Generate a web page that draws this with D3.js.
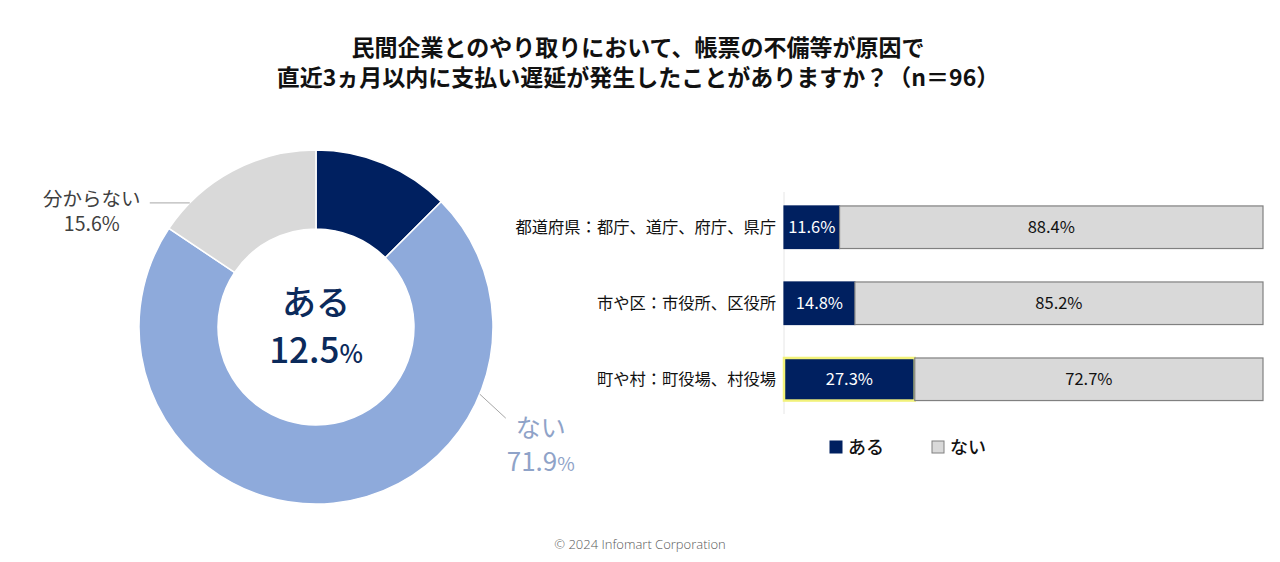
<!DOCTYPE html>
<html>
<head>
<meta charset="utf-8">
<script src="https://cdn.jsdelivr.net/npm/d3@7"></script>
<style>
  body { margin: 0; background: #fff; }
  svg { display: block; font-family: "Noto Sans CJK JP", "Noto Sans", sans-serif; }
</style>
</head>
<body>
<svg id="chart" width="1280" height="562"></svg>
<script>
// donut: overall answer
var pieLabels = ["ある", "ない", "分からない"];
var pieValues = [12.5, 71.9, 15.6];

// bars: by type of local government
var barCategories = ["都道府県：都庁、道庁、府庁、県庁", "市や区：市役所、区役所", "町や村：町役場、村役場"];
var yesValues = [11.6, 14.8, 27.3];
var noValues = [88.4, 85.2, 72.7];
var seriesNames = ["ある", "ない"];

var titleLines = ["民間企業とのやり取りにおいて、帳票の不備等が原因で", "直近3ヵ月以内に支払い遅延が発生したことがありますか？（n＝96）"];

var NAVY = "#002060", LIGHT = "#8eaadb", GRAY = "#d9d9d9";
var svg = d3.select("#chart");

// title
svg.append("g").selectAll("text")
  .data(titleLines)
  .enter().append("text")
    .attr("x", 638)
    .attr("y", function(d, i) { return 56 + i * 30; })
    .attr("text-anchor", "middle")
    .attr("font-size", 23)
    .attr("font-weight", 700)
    .attr("fill", "#111")
    .text(function(d) { return d; });

/***************** DONUT ******************/
var cx = 316, cy = 327, R = 177;
var pie = d3.pie().sort(null).value(function(d) { return d.value; });
var arc = d3.arc().innerRadius(98).outerRadius(R);
var pieData = pie(pieLabels.map(function(l, i) { return {label: l, value: pieValues[i]}; }));
var pieColors = d3.scaleOrdinal().domain(pieLabels).range([NAVY, LIGHT, GRAY]);

var donut = svg.append("g").attr("transform", "translate(" + cx + "," + cy + ")");
donut.selectAll("path")
  .data(pieData)
  .enter().append("path")
    .attr("d", arc)
    .attr("fill", function(d) { return pieColors(d.data.label); })
    .attr("stroke", "#fff")
    .attr("stroke-width", 1.5);

// centre label for ある
var center = donut.append("text").attr("text-anchor", "middle").attr("fill", "#0b2a5b").attr("font-weight", 500);
center.append("tspan").attr("x", 0).attr("y", -12).attr("font-size", 34).text(pieLabels[0]);
var pct = center.append("tspan").attr("x", 0).attr("y", 36).attr("font-size", 35);
pct.text(pieValues[0].toFixed(1));
pct.append("tspan").attr("font-size", 25).text("%");

// point on the ring, a fraction of the way through a slice
function ringPoint(d, f) {
  var a = d.startAngle + (d.endAngle - d.startAngle) * f;
  return [Math.sin(a) * R, -Math.cos(a) * R];
}
var dNo = pieData[1], dUnk = pieData[2];

// ない: leader goes down-right from the ring
var pNo = ringPoint(dNo, 0.26);
donut.append("line")
  .attr("x1", pNo[0]).attr("y1", pNo[1])
  .attr("x2", pNo[0] + 26).attr("y2", pNo[1] + 24)
  .attr("stroke", "#a6a6a6").attr("stroke-width", 1);
var noText = donut.append("text").attr("text-anchor", "middle").attr("fill", "#8fa3c8");
noText.append("tspan").attr("x", pNo[0] + 61).attr("y", pNo[1] + 43).attr("font-size", 25).text(pieLabels[1]);
var noPct = noText.append("tspan").attr("x", pNo[0] + 61).attr("y", pNo[1] + 77).attr("font-size", 26);
noPct.text(pieValues[1].toFixed(1));
noPct.append("tspan").attr("font-size", 19).text("%");

// 分からない: horizontal leader to the left
var pUnk = ringPoint(dUnk, 0.19);
donut.append("line")
  .attr("x1", pUnk[0]).attr("y1", pUnk[1])
  .attr("x2", pUnk[0] - 40).attr("y2", pUnk[1])
  .attr("stroke", "#a6a6a6").attr("stroke-width", 1);
var unkText = donut.append("text").attr("text-anchor", "middle").attr("fill", "#404040").attr("font-size", 19.5);
unkText.append("tspan").attr("x", pUnk[0] - 98).attr("y", pUnk[1] + 3).text(pieLabels[2]);
unkText.append("tspan").attr("x", pUnk[0] - 98).attr("y", pUnk[1] + 28).text(pieValues[2].toFixed(1) + "%");

/***************** STACKED BARS ******************/
var x = d3.scaleLinear().domain([0, 100]).range([784, 1263]);
var y = d3.scaleBand().domain(barCategories).range([172.5, 434]).paddingInner(0.44).paddingOuter(0.44);
var rows = barCategories.map(function(c, i) { return {cat: c, yes: yesValues[i], no: noValues[i]}; });
var stack = d3.stack().keys(["yes", "no"])(rows);
var barColors = [NAVY, GRAY];
var highlightRow = barCategories[2];

// vertical axis line
svg.append("line")
  .attr("x1", x(0)).attr("x2", x(0))
  .attr("y1", 192).attr("y2", 414)
  .attr("stroke", "#e6e6e6");

var layers = svg.append("g").selectAll("g.layer")
  .data(stack)
  .enter().append("g").attr("class", "layer");

layers.selectAll("rect")
  .data(function(d) { return d; })
  .enter().append("rect")
    .attr("x", function(d) { return x(d[0]); })
    .attr("y", function(d) { return y(d.data.cat); })
    .attr("width", function(d) { return x(d[1]) - x(d[0]); })
    .attr("height", y.bandwidth())
    .attr("fill", function() { return barColors[d3.select(this.parentNode).datum().index]; })
    .attr("stroke", function(d) {
      var k = d3.select(this.parentNode).datum().index;
      if (k === 0 && d.data.cat === highlightRow) return "#f2f27a";
      return k === 0 ? NAVY : "#808080";
    })
    .attr("stroke-width", function(d) {
      var k = d3.select(this.parentNode).datum().index;
      return (k === 0 && d.data.cat === highlightRow) ? 2.5 : 1.2;
    });

layers.selectAll("text")
  .data(function(d) { return d; })
  .enter().append("text")
    .attr("x", function(d) { return (x(d[0]) + x(d[1])) / 2; })
    .attr("y", function(d) { return y(d.data.cat) + y.bandwidth() / 2 + 6; })
    .attr("text-anchor", "middle")
    .attr("font-size", 16.5)
    .attr("fill", function() { return d3.select(this.parentNode).datum().index === 0 ? "#fff" : "#111"; })
    .text(function(d) { return (d[1] - d[0]).toFixed(1) + "%"; });

// category labels
svg.append("g").selectAll("text")
  .data(barCategories)
  .enter().append("text")
    .attr("x", 776)
    .attr("y", function(d) { return y(d) + y.bandwidth() / 2 + 6; })
    .attr("text-anchor", "end")
    .attr("font-size", 16.3)
    .attr("fill", "#111")
    .text(function(d) { return d; });

// legend
var legend = svg.append("g").selectAll("g")
  .data(seriesNames)
  .enter().append("g")
    .attr("transform", function(d, i) { return "translate(" + (830 + i * 102) + ",441)"; });
legend.append("rect")
  .attr("width", 12).attr("height", 12)
  .attr("fill", function(d, i) { return barColors[i]; })
  .attr("stroke", function(d, i) { return i ? "#808080" : NAVY; });
legend.append("text")
  .attr("x", 18).attr("y", 13)
  .attr("font-size", 18)
  .attr("font-weight", 500)
  .attr("fill", "#111")
  .text(function(d) { return d; });

// footer
svg.append("text")
  .attr("x", 640).attr("y", 549)
  .attr("text-anchor", "middle")
  .attr("font-family", "'Open Sans', sans-serif")
  .attr("font-weight", 300)
  .attr("font-size", 13)
  .attr("fill", "#595959")
  .text("© 2024 Infomart Corporation");
</script>
</body>
</html>
